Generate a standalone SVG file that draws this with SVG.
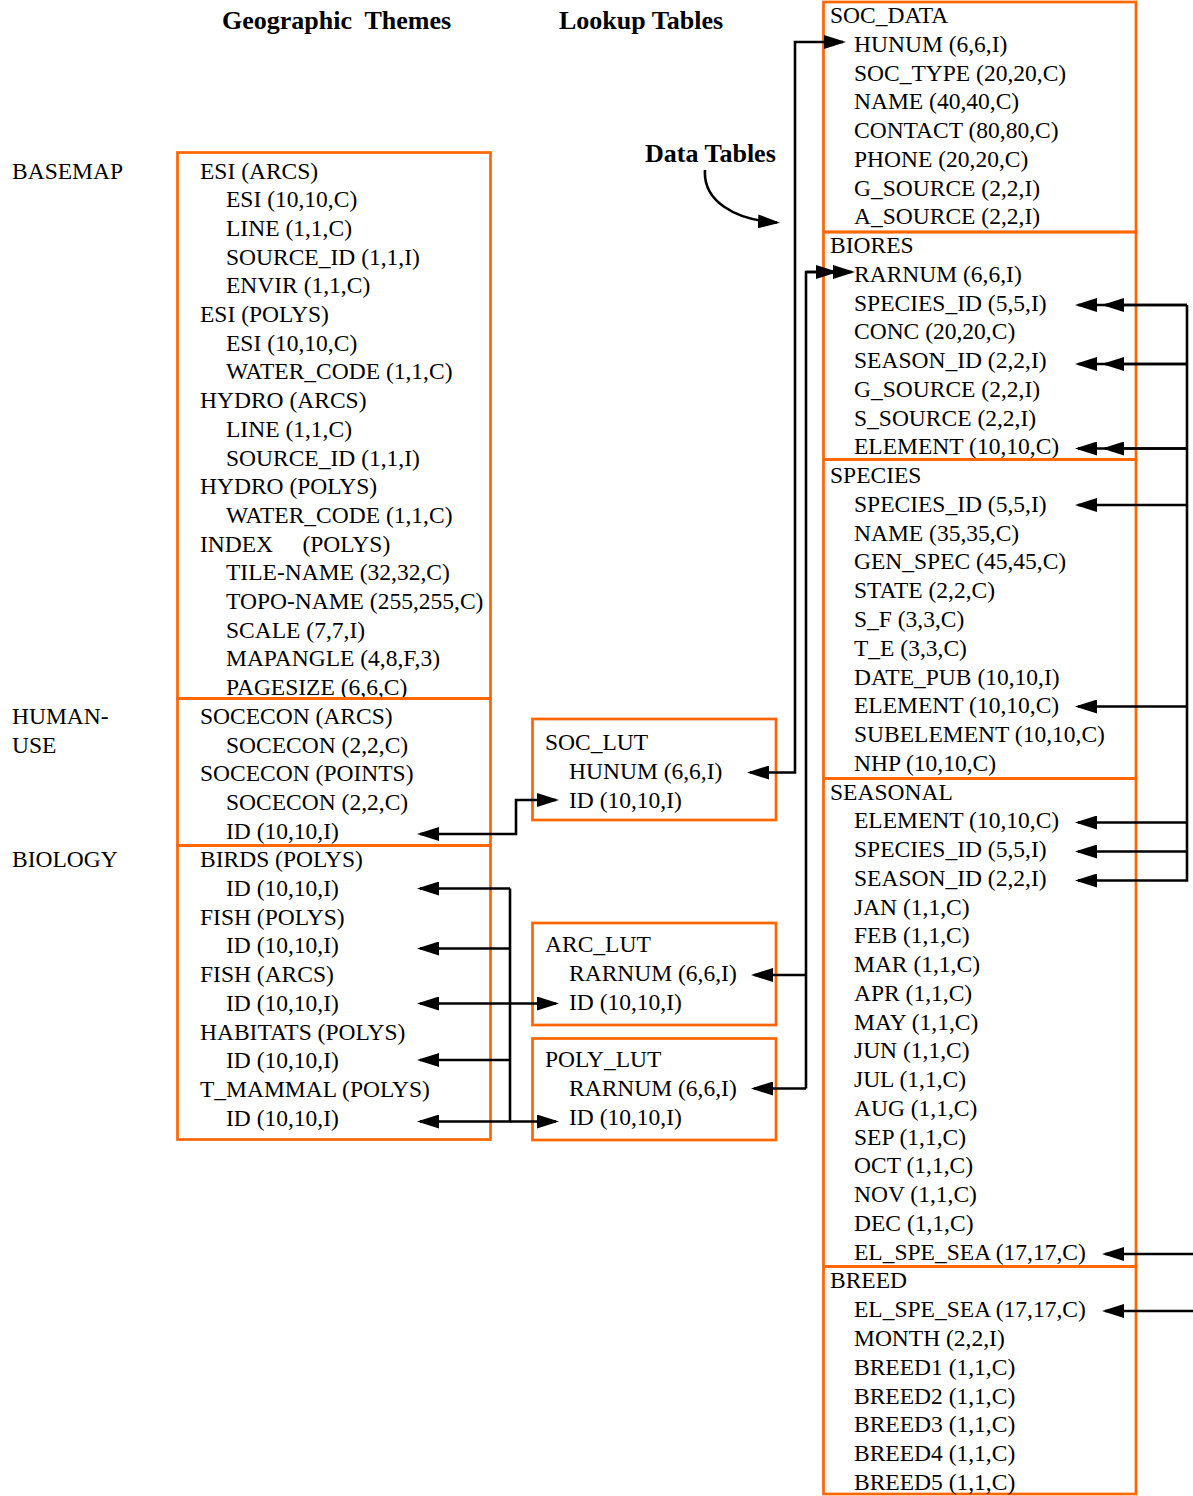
<svg xmlns="http://www.w3.org/2000/svg" width="1193" height="1496" viewBox="0 0 1193 1496">
<style>
text{font-family:"Liberation Serif","Times New Roman",serif;font-size:23.5px;fill:#000}
.h{font-weight:bold;font-size:26px}
.pre{white-space:pre}
.box{fill:none;stroke:#FF6600;stroke-width:2.7}
.c{fill:none;stroke:#000;stroke-width:2.6}
.a{marker-end:url(#ah)}
.b{marker-start:url(#ah);marker-end:url(#ah)}
</style>
<defs>
<marker id="ah" markerUnits="userSpaceOnUse" markerWidth="22" markerHeight="14" viewBox="0 0 22 14" refX="19" refY="7" orient="auto-start-reverse"><path d="M0,0 L22,7 L0,14 z" fill="#000"/></marker>
</defs>
<rect width="1193" height="1496" fill="#fff"/>

<g id="titles">
<text class="h pre" x="222" y="29" xml:space="preserve">Geographic  Themes</text>
<text class="h" x="559" y="29">Lookup Tables</text>
<text class="h" x="645" y="162">Data Tables</text>
</g>

<g id="labels">
<text x="12" y="178.5">BASEMAP</text>
<text x="12" y="723.8">HUMAN-</text>
<text x="12" y="752.5">USE</text>
<text x="12" y="867.3">BIOLOGY</text>
</g>

<g id="basemap">
<rect class="box" x="177.5" y="152.5" width="313" height="546"/>
<text x="200" y="178.5">ESI (ARCS)</text>
<text x="226" y="207.2">ESI (10,10,C)</text>
<text x="226" y="235.9">LINE (1,1,C)</text>
<text x="226" y="264.6">SOURCE_ID (1,1,I)</text>
<text x="226" y="293.3">ENVIR (1,1,C)</text>
<text x="200" y="322.0">ESI (POLYS)</text>
<text x="226" y="350.7">ESI (10,10,C)</text>
<text x="226" y="379.4">WATER_CODE (1,1,C)</text>
<text x="200" y="408.1">HYDRO (ARCS)</text>
<text x="226" y="436.8">LINE (1,1,C)</text>
<text x="226" y="465.5">SOURCE_ID (1,1,I)</text>
<text x="200" y="494.2">HYDRO (POLYS)</text>
<text x="226" y="522.9">WATER_CODE (1,1,C)</text>
<text class="pre" x="200" y="551.6" xml:space="preserve">INDEX     (POLYS)</text>
<text x="226" y="580.3">TILE-NAME (32,32,C)</text>
<text x="226" y="609.0">TOPO-NAME (255,255,C)</text>
<text x="226" y="637.7">SCALE (7,7,I)</text>
<text x="226" y="666.4">MAPANGLE (4,8,F,3)</text>
<text x="226" y="695.1">PAGESIZE (6,6,C)</text>
</g>

<g id="human-use">
<rect class="box" x="177.5" y="698.5" width="313" height="147"/>
<text x="200" y="723.8">SOCECON (ARCS)</text>
<text x="226" y="752.5">SOCECON (2,2,C)</text>
<text x="200" y="781.2">SOCECON (POINTS)</text>
<text x="226" y="809.9">SOCECON (2,2,C)</text>
<text x="226" y="838.6">ID (10,10,I)</text>
</g>

<g id="biology">
<rect class="box" x="177.5" y="845.5" width="313" height="294"/>
<text x="200" y="867.3">BIRDS (POLYS)</text>
<text x="226" y="896.0">ID (10,10,I)</text>
<text x="200" y="924.7">FISH (POLYS)</text>
<text x="226" y="953.4">ID (10,10,I)</text>
<text x="200" y="982.1">FISH (ARCS)</text>
<text x="226" y="1010.8">ID (10,10,I)</text>
<text x="200" y="1039.5">HABITATS (POLYS)</text>
<text x="226" y="1068.2">ID (10,10,I)</text>
<text x="200" y="1096.9">T_MAMMAL (POLYS)</text>
<text x="226" y="1125.6">ID (10,10,I)</text>
</g>

<g id="soc_lut">
<rect class="box" x="532.5" y="719" width="243.5" height="101"/>
<text x="545" y="750">SOC_LUT</text>
<text x="569" y="779">HUNUM (6,6,I)</text>
<text x="569" y="808">ID (10,10,I)</text>
</g>

<g id="arc_lut">
<rect class="box" x="532.5" y="923" width="243.5" height="102"/>
<text x="545" y="952">ARC_LUT</text>
<text x="569" y="981">RARNUM (6,6,I)</text>
<text x="569" y="1010">ID (10,10,I)</text>
</g>

<g id="poly_lut">
<rect class="box" x="532.5" y="1038.5" width="243.5" height="101.5"/>
<text x="545" y="1067">POLY_LUT</text>
<text x="569" y="1096">RARNUM (6,6,I)</text>
<text x="569" y="1125">ID (10,10,I)</text>
</g>

<g id="soc_data">
<rect class="box" x="823.5" y="2" width="312.5" height="230"/>
<text x="830" y="23">SOC_DATA</text>
<text x="854" y="51.8">HUNUM (6,6,I)</text>
<text x="854" y="80.5">SOC_TYPE (20,20,C)</text>
<text x="854" y="109.3">NAME (40,40,C)</text>
<text x="854" y="138.0">CONTACT (80,80,C)</text>
<text x="854" y="166.8">PHONE (20,20,C)</text>
<text x="854" y="195.6">G_SOURCE (2,2,I)</text>
<text x="854" y="224.3">A_SOURCE (2,2,I)</text>
</g>

<g id="biores">
<rect class="box" x="823.5" y="232" width="312.5" height="227.5"/>
<text x="830" y="253.1">BIORES</text>
<text x="854" y="281.8">RARNUM (6,6,I)</text>
<text x="854" y="310.6">SPECIES_ID (5,5,I)</text>
<text x="854" y="339.4">CONC (20,20,C)</text>
<text x="854" y="368.1">SEASON_ID (2,2,I)</text>
<text x="854" y="396.9">G_SOURCE (2,2,I)</text>
<text x="854" y="425.6">S_SOURCE (2,2,I)</text>
<text x="854" y="454.4">ELEMENT (10,10,C)</text>
</g>

<g id="species">
<rect class="box" x="823.5" y="459.5" width="312.5" height="319"/>
<text x="830" y="483.2">SPECIES</text>
<text x="854" y="511.9">SPECIES_ID (5,5,I)</text>
<text x="854" y="540.7">NAME (35,35,C)</text>
<text x="854" y="569.4">GEN_SPEC (45,45,C)</text>
<text x="854" y="598.2">STATE (2,2,C)</text>
<text x="854" y="627.0">S_F (3,3,C)</text>
<text x="854" y="655.7">T_E (3,3,C)</text>
<text x="854" y="684.5">DATE_PUB (10,10,I)</text>
<text x="854" y="713.2">ELEMENT (10,10,C)</text>
<text x="854" y="742.0">SUBELEMENT (10,10,C)</text>
<text x="854" y="770.8">NHP (10,10,C)</text>
</g>

<g id="seasonal">
<rect class="box" x="823.5" y="778.5" width="312.5" height="488"/>
<text x="830" y="799.5">SEASONAL</text>
<text x="854" y="828.3">ELEMENT (10,10,C)</text>
<text x="854" y="857.0">SPECIES_ID (5,5,I)</text>
<text x="854" y="885.8">SEASON_ID (2,2,I)</text>
<text x="854" y="914.6">JAN (1,1,C)</text>
<text x="854" y="943.3">FEB (1,1,C)</text>
<text x="854" y="972.1">MAR (1,1,C)</text>
<text x="854" y="1000.8">APR (1,1,C)</text>
<text x="854" y="1029.6">MAY (1,1,C)</text>
<text x="854" y="1058.4">JUN (1,1,C)</text>
<text x="854" y="1087.1">JUL (1,1,C)</text>
<text x="854" y="1115.9">AUG (1,1,C)</text>
<text x="854" y="1144.6">SEP (1,1,C)</text>
<text x="854" y="1173.4">OCT (1,1,C)</text>
<text x="854" y="1202.2">NOV (1,1,C)</text>
<text x="854" y="1230.9">DEC (1,1,C)</text>
<text x="854" y="1259.7">EL_SPE_SEA (17,17,C)</text>
</g>

<g id="breed">
<rect class="box" x="823.5" y="1266.5" width="312.5" height="227.5"/>
<text x="830" y="1288.4">BREED</text>
<text x="854" y="1317.2">EL_SPE_SEA (17,17,C)</text>
<text x="854" y="1346.0">MONTH (2,2,I)</text>
<text x="854" y="1374.7">BREED1 (1,1,C)</text>
<text x="854" y="1403.5">BREED2 (1,1,C)</text>
<text x="854" y="1432.2">BREED3 (1,1,C)</text>
<text x="854" y="1461.0">BREED4 (1,1,C)</text>
<text x="854" y="1489.8">BREED5 (1,1,C)</text>
</g>

<g id="connectors">
<path class="c a" d="M705,170 C703,200 733,220 777,222.5"/>
<path class="c b" d="M750,772.5 H795 V42 H843"/>
<path class="c a" d="M806,1088.5 V272 H852"/>
<path class="c a" d="M806,272 H835"/>
<path class="c a" d="M806,975 H754"/>
<path class="c a" d="M806,1088.5 H754"/>
<path class="c b" d="M420,834 H516 V800 H556"/>
<path class="c a" d="M510,888.5 H420"/>
<path class="c a" d="M510,888.5 V1121.5 H420"/>
<path class="c a" d="M510,948.5 H420"/>
<path class="c a" d="M510,1060 H420"/>
<path class="c b" d="M420,1003.5 H556"/>
<path class="c a" d="M510,1121.5 H556"/>
<path class="c a" d="M1187,305 V880.5 H1078"/>
<path class="c a" d="M1187,305 H1105"/>
<path class="c a" d="M1187,305 H1078"/>
<path class="c a" d="M1187,364 H1105"/>
<path class="c a" d="M1187,364 H1078"/>
<path class="c a" d="M1187,448.5 H1105"/>
<path class="c a" d="M1187,448.5 H1078"/>
<path class="c a" d="M1187,505 H1078"/>
<path class="c a" d="M1187,706.5 H1078"/>
<path class="c a" d="M1187,822.5 H1078"/>
<path class="c a" d="M1187,851.5 H1078"/>
<path class="c a" d="M1193,1254 H1105"/>
<path class="c a" d="M1193,1311 H1105"/>
</g>
</svg>
